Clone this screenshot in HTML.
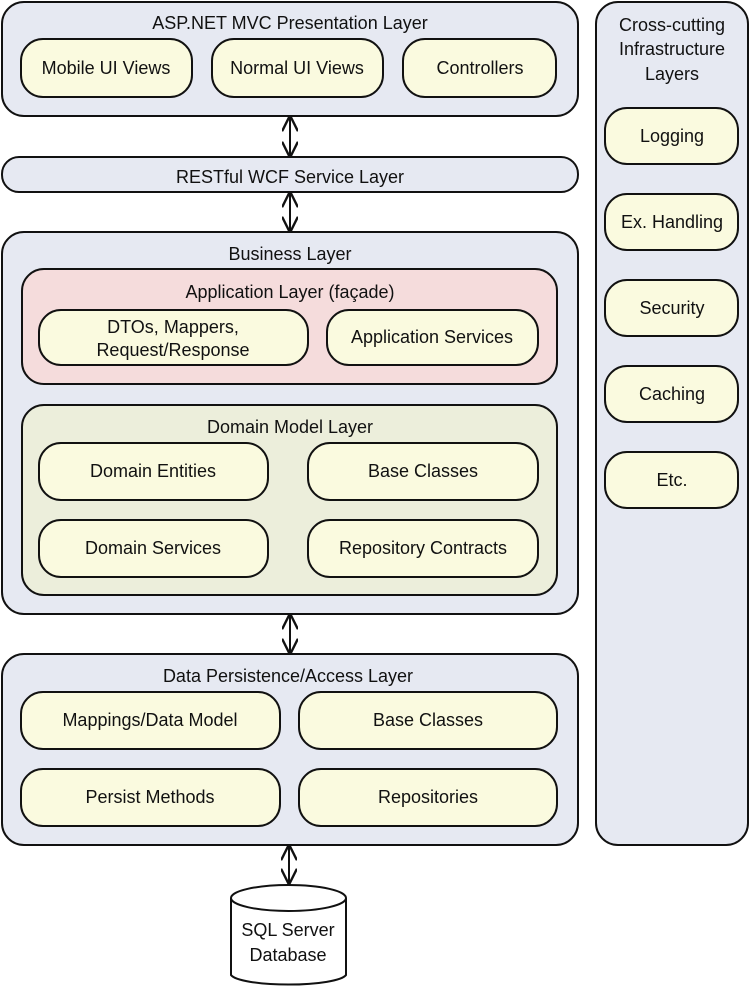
<!DOCTYPE html>
<html><head><meta charset="utf-8"><style>
html,body{margin:0;padding:0;background:#fff;}
svg{display:block;}
text{font-family:"Liberation Sans",sans-serif;font-size:18px;fill:#111;text-anchor:middle;}
.L{fill:#e6e9f2;stroke:#111;stroke-width:2;}
.P{fill:#fafadf;stroke:#111;stroke-width:2;}
</style></head><body>
<svg width="750" height="990" viewBox="0 0 750 990" xmlns="http://www.w3.org/2000/svg">
<defs>
<marker id="a" viewBox="0 0 10 10" refX="9" refY="5" markerWidth="8" markerHeight="8" orient="auto-start-reverse"><path d="M0,0 L10,5 L0,10" fill="none" stroke="#111" stroke-width="1.5"/></marker>
</defs>
<rect class="L" x="2" y="2" width="576" height="114" rx="22"/>
<text x="290" y="29">ASP.NET MVC Presentation Layer</text>
<rect class="P" x="21" y="39" width="171" height="58" rx="22"/><text x="106" y="74">Mobile UI Views</text>
<rect class="P" x="212" y="39" width="171" height="58" rx="22"/><text x="297" y="74">Normal UI Views</text>
<rect class="P" x="403" y="39" width="153" height="58" rx="22"/><text x="480" y="74">Controllers</text>
<line x1="290" y1="117" x2="290" y2="156" stroke="#111" stroke-width="2" marker-start="url(#a)" marker-end="url(#a)"/>
<rect class="L" x="2" y="157" width="576" height="35" rx="17"/>
<text x="290" y="183">RESTful WCF Service Layer</text>
<line x1="290" y1="193" x2="290" y2="231" stroke="#111" stroke-width="2" marker-start="url(#a)" marker-end="url(#a)"/>
<rect class="L" x="2" y="232" width="576" height="382" rx="22"/>
<text x="290" y="260">Business Layer</text>
<rect x="22" y="269" width="535" height="115" rx="22" fill="#f5dcdc" stroke="#111" stroke-width="2"/>
<text x="290" y="298">Application Layer (façade)</text>
<rect class="P" x="39" y="310" width="269" height="55" rx="22"/><text x="173" y="333">DTOs, Mappers,</text><text x="173" y="356">Request/Response</text>
<rect class="P" x="327" y="310" width="211" height="55" rx="22"/><text x="432" y="343">Application Services</text>
<rect x="22" y="405" width="535" height="190" rx="22" fill="#eceedb" stroke="#111" stroke-width="2"/>
<text x="290" y="433">Domain Model Layer</text>
<rect class="P" x="39" y="443" width="229" height="57" rx="22"/><text x="153" y="477">Domain Entities</text>
<rect class="P" x="308" y="443" width="230" height="57" rx="22"/><text x="423" y="477">Base Classes</text>
<rect class="P" x="39" y="520" width="229" height="57" rx="22"/><text x="153" y="554">Domain Services</text>
<rect class="P" x="308" y="520" width="230" height="57" rx="22"/><text x="423" y="554">Repository Contracts</text>
<line x1="290" y1="615" x2="290" y2="653" stroke="#111" stroke-width="2" marker-start="url(#a)" marker-end="url(#a)"/>
<rect class="L" x="2" y="654" width="576" height="191" rx="22"/>
<text x="288" y="682">Data Persistence/Access Layer</text>
<rect class="P" x="21" y="692" width="259" height="57" rx="22"/><text x="150" y="726">Mappings/Data Model</text>
<rect class="P" x="299" y="692" width="258" height="57" rx="22"/><text x="428" y="726">Base Classes</text>
<rect class="P" x="21" y="769" width="259" height="57" rx="22"/><text x="150" y="803">Persist Methods</text>
<rect class="P" x="299" y="769" width="258" height="57" rx="22"/><text x="428" y="803">Repositories</text>
<line x1="289" y1="846" x2="289" y2="883" stroke="#111" stroke-width="2" marker-start="url(#a)" marker-end="url(#a)"/>
<path d="M231,898 L231,975 A58,11 0 0 0 346,975 L346,898" fill="#fff" stroke="#111" stroke-width="2"/>
<ellipse cx="288.5" cy="898" rx="57.5" ry="13" fill="#fff" stroke="#111" stroke-width="2"/>
<text x="288" y="936">SQL Server</text>
<text x="288" y="961">Database</text>
<rect class="L" x="596" y="2" width="152" height="843" rx="22"/>
<text x="672" y="31">Cross-cutting</text>
<text x="672" y="55">Infrastructure</text>
<text x="672" y="80">Layers</text>
<rect class="P" x="605" y="108" width="133" height="56" rx="22"/><text x="672" y="142">Logging</text>
<rect class="P" x="605" y="194" width="133" height="56" rx="22"/><text x="672" y="228">Ex. Handling</text>
<rect class="P" x="605" y="280" width="133" height="56" rx="22"/><text x="672" y="314">Security</text>
<rect class="P" x="605" y="366" width="133" height="56" rx="22"/><text x="672" y="400">Caching</text>
<rect class="P" x="605" y="452" width="133" height="56" rx="22"/><text x="672" y="486">Etc.</text>
</svg>
</body></html>
